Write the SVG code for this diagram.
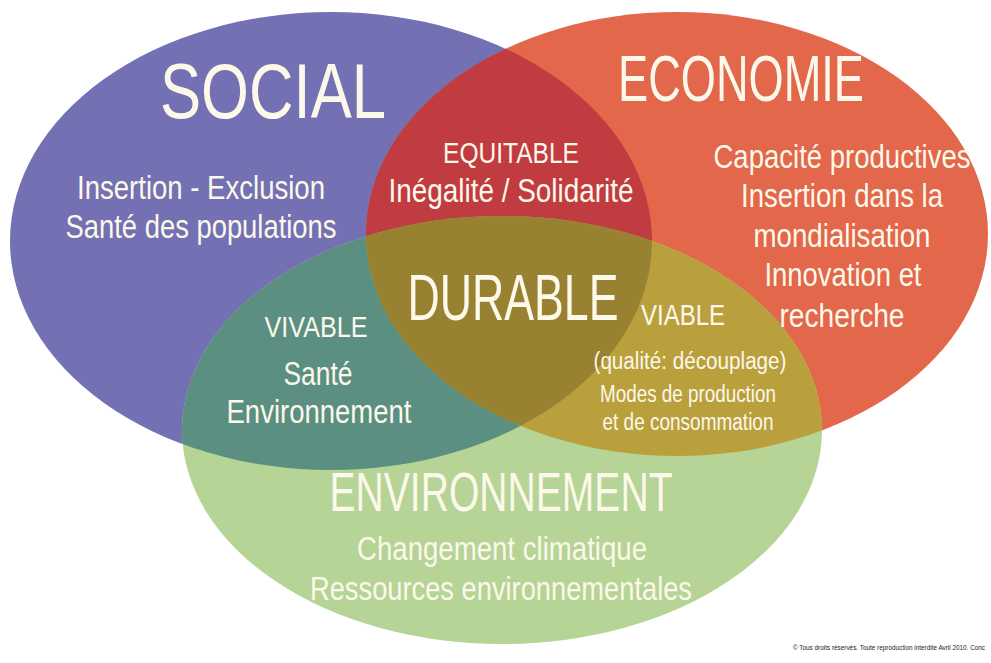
<svg xmlns="http://www.w3.org/2000/svg" width="991" height="663" viewBox="0 0 991 663">
<style>
text{font-family:"Liberation Sans",Arial,sans-serif;fill:#fcf8ea;text-anchor:middle}
.t1{font-size:77px}
.t2{font-size:32.5px}
.t3{font-size:30px}
.t4{font-size:23px}
.cp{font-size:8px;text-anchor:start;fill:#222}
</style>
<defs>
<clipPath id="cS"><ellipse cx="331" cy="241" rx="321" ry="229"/></clipPath>
<clipPath id="cE"><ellipse cx="677" cy="234" rx="311" ry="222"/></clipPath>
</defs>
<rect width="991" height="663" fill="#ffffff"/>
<g id="social"><ellipse cx="331" cy="241" rx="321" ry="229" fill="#7371b3"/></g>
<g id="economie"><ellipse cx="677" cy="234" rx="311" ry="222" fill="#e2674b"/></g>
<g id="environnement"><ellipse cx="502" cy="430" rx="320" ry="214" fill="#b5d495"/></g>
<g id="equitable"><ellipse cx="677" cy="234" rx="311" ry="222" fill="#c13c41" clip-path="url(#cS)"/></g>
<g id="vivable"><ellipse cx="502" cy="430" rx="320" ry="214" fill="#5b8f82" clip-path="url(#cS)"/></g>
<g id="viable"><ellipse cx="502" cy="430" rx="320" ry="214" fill="#baa03d" clip-path="url(#cE)"/></g>
<g id="durable"><g clip-path="url(#cS)"><ellipse cx="502" cy="430" rx="320" ry="214" fill="#988231" clip-path="url(#cE)"/></g></g>
<g id="labels">
<text class="t1" x="273" y="118" textLength="226" lengthAdjust="spacingAndGlyphs">SOCIAL</text>
<text class="t2" x="201" y="199" textLength="248" lengthAdjust="spacingAndGlyphs">Insertion - Exclusion</text>
<text class="t2" x="201" y="238" textLength="271" lengthAdjust="spacingAndGlyphs">Santé des populations</text>
<text class="t1" x="741" y="101" style="font-size:64px" textLength="246" lengthAdjust="spacingAndGlyphs">ECONOMIE</text>
<text class="t2" x="842" y="168" textLength="257" lengthAdjust="spacingAndGlyphs">Capacité productives</text>
<text class="t2" x="842" y="207" textLength="202" lengthAdjust="spacingAndGlyphs">Insertion dans la</text>
<text class="t2" x="842" y="247" textLength="177" lengthAdjust="spacingAndGlyphs">mondialisation</text>
<text class="t2" x="843" y="286" textLength="157" lengthAdjust="spacingAndGlyphs">Innovation et</text>
<text class="t2" x="842" y="327" textLength="125" lengthAdjust="spacingAndGlyphs">recherche</text>
<text class="t3" x="511" y="163" textLength="136" lengthAdjust="spacingAndGlyphs">EQUITABLE</text>
<text class="t2" x="511" y="202" textLength="245" lengthAdjust="spacingAndGlyphs">Inégalité / Solidarité</text>
<text class="t1" x="513" y="320" style="font-size:65px" textLength="211" lengthAdjust="spacingAndGlyphs">DURABLE</text>
<text class="t3" x="316" y="337" textLength="103" lengthAdjust="spacingAndGlyphs">VIVABLE</text>
<text class="t2" x="318" y="385" textLength="69" lengthAdjust="spacingAndGlyphs">Santé</text>
<text class="t2" x="319" y="423" textLength="185" lengthAdjust="spacingAndGlyphs">Environnement</text>
<text class="t3" x="683" y="325" style="font-size:29px" textLength="84" lengthAdjust="spacingAndGlyphs">VIABLE</text>
<text class="t4" x="690" y="369" textLength="193" lengthAdjust="spacingAndGlyphs">(qualité: découplage)</text>
<text class="t4" x="688" y="402" textLength="176" lengthAdjust="spacingAndGlyphs">Modes de production</text>
<text class="t4" x="688" y="430" textLength="171" lengthAdjust="spacingAndGlyphs">et de consommation</text>
<text class="t1" x="501" y="511" style="font-size:56px" textLength="343" lengthAdjust="spacingAndGlyphs">ENVIRONNEMENT</text>
<text class="t2" x="502" y="560" textLength="290" lengthAdjust="spacingAndGlyphs">Changement climatique</text>
<text class="t2" x="501" y="600" textLength="382" lengthAdjust="spacingAndGlyphs">Ressources environnementales</text>
<text class="cp" x="793" y="650" textLength="192" lengthAdjust="spacingAndGlyphs">© Tous droits réservés. Toute reproduction interdite Avril 2010. Conc</text>
</g>
</svg>
